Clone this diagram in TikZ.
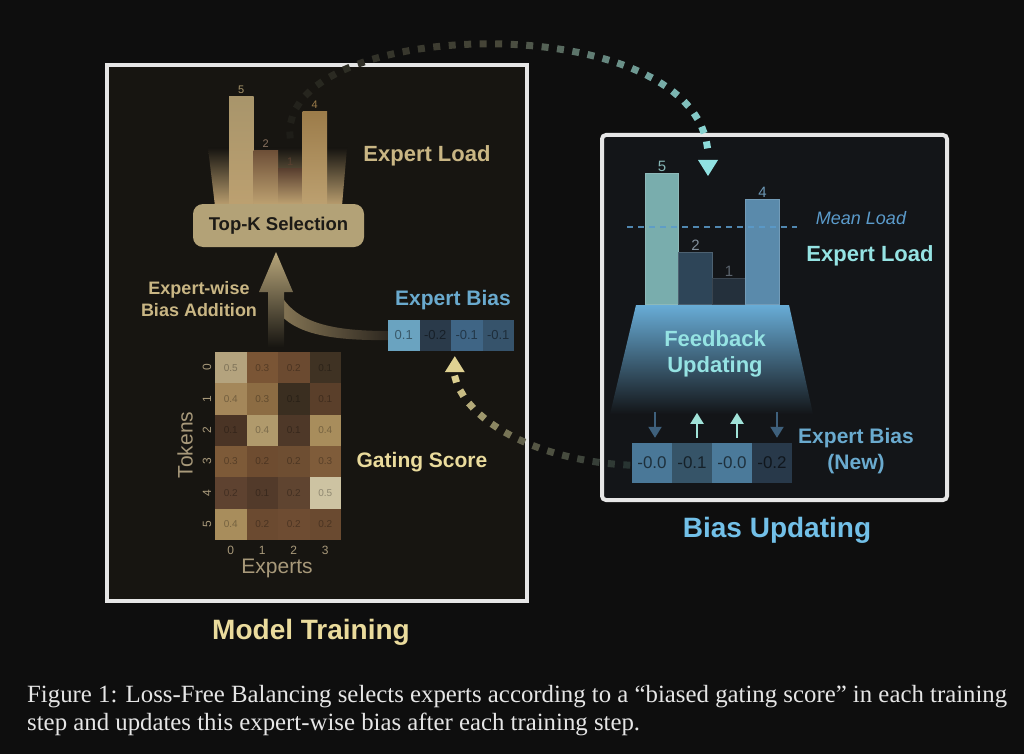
\documentclass[tikz,border=0pt]{standalone}
\usepackage{fontspec}
\setmainfont{Liberation Sans}
\newfontfamily\capfont{Liberation Serif}
\usetikzlibrary{positioning,calc}
\usetikzlibrary{arrows.meta,decorations.markings}
\definecolor{PageBg}{HTML}{0E0E0E}
\definecolor{TrainBg}{HTML}{171511}
\definecolor{UpdBg}{HTML}{131518}
\definecolor{FrameGray}{HTML}{E6E6E6}
\definecolor{LoadTan}{HTML}{C9B684}
\definecolor{GoldText}{HTML}{EADB9C}
\definecolor{TickTan}{HTML}{A8997A}
\definecolor{BiasBlue}{HTML}{6AAACE}
\definecolor{CyanText}{HTML}{95E3E3}
\definecolor{UpdBlue}{HTML}{72C0E8}
\definecolor{MeanBlue}{HTML}{5B9BCB}
\definecolor{BoxTan}{HTML}{B3A277}
\definecolor{BoxInk}{HTML}{1C1A16}
\definecolor{CapText}{HTML}{E6E6E6}
\definecolor{GlowTan}{HTML}{BCA070}
\definecolor{ArrowTan}{HTML}{B8A67A}
\definecolor{BandTan}{HTML}{8A7A58}
\definecolor{BandDark}{HTML}{2E2820}
\definecolor{FunnelBlue}{HTML}{68ACD6}
\definecolor{DownBlue}{HTML}{3E607C}
\definecolor{UpTeal}{HTML}{A0E2D8}
\definecolor{ArcDark}{HTML}{1E1D18}
\definecolor{ArcMid}{HTML}{48483A}
\definecolor{ArcTeal}{HTML}{90E2E2}
\definecolor{LowDark}{HTML}{283432}
\definecolor{LowMid}{HTML}{5A5A46}
\definecolor{LowGold}{HTML}{E0D292}
\newcommand\fsz[2]{\fontsize{#1}{#2}\selectfont}
\tikzset{
  panel/.style={draw=FrameGray,line width=4pt},
  lbar/.style={minimum width=24.5pt,inner sep=0pt,anchor=south,bottom color=GlowTan},
  rbar/.style={minimum width=33.5pt,inner sep=0pt,anchor=south,line width=0.6pt},
  hmcell/.style={minimum width=31.5pt,minimum height=31.3pt,inner sep=0pt,
    text=black,text opacity=0.3,font=\fsz{10}{12}},
  biascell/.style={minimum width=31.5pt,minimum height=31pt,inner sep=0pt,
    text=black,text opacity=0.45,font=\fsz{13}{15}},
  newcell/.style={minimum width=40pt,minimum height=40pt,inner sep=0pt,
    text=black,text opacity=0.6,font=\fsz{17}{20}},
  tick/.style={text=TickTan,font=\fsz{12}{14},inner sep=0pt},
  lab/.style={font=\bfseries\fsz{22}{26},inner sep=0pt,align=center},
  updown/.style={draw=#1,line width=2pt,-{Triangle[width=13pt,length=11pt]}},
  dotarc/.style n args={3}{postaction={decorate,decoration={markings,
    mark=between positions 0 and 1 step 15.5pt with {%
      \pgfmathsetmacro\dotpct{max(0,min(100,100*(\pgfkeysvalueof{/pgf/decoration/mark info/distance from start}/\pgfdecoratedpathlength)))}%
      \ifdim\dotpct pt<50pt
        \pgfmathsetmacro\dotmix{2*\dotpct}\colorlet{dotfill}{#2!\dotmix!#1}%
      \else
        \pgfmathsetmacro\dotmix{2*\dotpct-100}\colorlet{dotfill}{#3!\dotmix!#2}%
      \fi
      \fill[dotfill] (-3.5,-3.5) rectangle (3.5,3.5);}}}},
}

\begin{document}
\begin{tikzpicture}[x=1pt,y=-1pt]
\useasboundingbox (0,0) rectangle (1024,754);
\fill[PageBg] (0,0) rectangle (1024,754);

% panels
\draw[panel,fill=TrainBg] (107,65) rectangle (527,601);
\draw[panel,fill=UpdBg,rounded corners=4pt] (602,135) rectangle (947,500);

% left: expert load
\shade[top color=TrainBg,bottom color=GlowTan] (208,148) -- (347,148) -- (342,206) -- (215,206) -- cycle;
\definecolor{lbA}{HTML}{A8956B}\definecolor{lbB}{HTML}{6E5038}
\definecolor{lbC}{HTML}{5A4030}\definecolor{lbD}{HTML}{9C7C4A}
\node[lbar,minimum height=107pt,top color=lbA] (lb1) at (241.25,204) {};
\node[lbar,minimum height=53pt,top color=lbB] (lb2) at (265.75,204) {};
\node[lbar,minimum height=35pt,top color=lbC] (lb3) at (290.25,204) {};
\node[lbar,minimum height=92pt,top color=lbD] (lb4) at (314.75,204) {};
\node[tick,text=lbA,font=\fsz{11}{13},above=3pt of lb1] {5};
\node[tick,text=lbB!80!white,font=\fsz{11}{13},above=3pt of lb2] {2};
\node[tick,text=lbC,font=\fsz{11}{13},above=3pt of lb3] {1};
\node[tick,text=lbD,font=\fsz{11}{13},above=3pt of lb4] {4};
\node[lab,text=LoadTan] (loadL) at (427,156) {Expert Load};

\node[fill=BoxTan,rounded corners=10pt,minimum width=171pt,minimum height=43pt,
  font=\bfseries\fsz{18.5}{22},text=BoxInk] (topk) at (278.5,225.5) {Top-K Selection};

% bias addition
\shade[left color=BandTan,right color=BandDark]
  (282,297) .. controls (298,322) and (330,331) .. (388,331) -- (388,340) .. controls (322,341) and (288,331) .. (274,306) -- cycle;
\shade[top color=ArrowTan,bottom color=TrainBg]
  (268,347) -- (268,292) -- (259,292) -- (276,252) -- (293,292) -- (284,292) -- (284,347) -- cycle;
\node[lab,text=LoadTan,font=\bfseries\fsz{18}{22}] (wise) at (199,299) {Expert-wise\\Bias Addition};

\node[lab,text=BiasBlue,font=\bfseries\fsz{21}{25}] (biasL) at (453,300) {Expert Bias};
\foreach \i/\v/\bc in {1/0.1/6AA3C0,2/-0.2/2A3A4A,3/-0.1/3F6585,4/-0.1/36536B}{
  \definecolor{cellfill}{HTML}{\bc}
  \node[biascell,fill=cellfill] (ob\i) at (372.25+31.5*\i,335.5) {\v};
}

% gating score heatmap
\foreach \r/\c/\v/\hc in {0/0/0.5/B4A37E,0/1/0.3/7A5535,0/2/0.2/6B4A30,0/3/0.1/3F3223,
  1/0/0.4/A4875A,1/1/0.3/8C6C43,1/2/0.1/3A2E20,1/3/0.1/5A3F2A,
  2/0/0.1/4A3425,2/1/0.4/B09A6C,2/2/0.1/4E3828,2/3/0.4/A88D5C,
  3/0/0.3/7D5A38,3/1/0.2/6E4C30,3/2/0.2/6E4E32,3/3/0.3/7F5C3A,
  4/0/0.2/5E4230,4/1/0.1/523A2A,4/2/0.2/5F4430,4/3/0.5/CDC3A2,
  5/0/0.4/A88D5C,5/1/0.2/6B4A30,5/2/0.2/6E4C32,5/3/0.2/6A4A30}{
  \definecolor{cellfill}{HTML}{\hc}
  \node[hmcell,fill=cellfill] (hm\r\c) at (230.75+31.5*\c,367.65+31.3*\r) {\v};
}
\foreach \r in {0,...,5}
  \node[tick,rotate=90] at (207,367.65+31.3*\r) {\r};
\foreach \c in {0,...,3}
  \node[tick] at (230.75+31.5*\c,550) {\c};
\node[tick,font=\fsz{21}{25},rotate=90] (tokens) at (185,445) {Tokens};
\node[tick,font=\fsz{21}{25}] (experts) at (277,568) {Experts};
\node[lab,text=GoldText,font=\bfseries\fsz{21}{25}] (gate) at (422,462) {Gating Score};

\node[lab,text=GoldText,font=\bfseries\fsz{28}{32}] (train) at (311,632) {Model Training};

% right: bias updating
\definecolor{rbA}{HTML}{79ADAD}\definecolor{rbB}{HTML}{2E4558}
\definecolor{rbC}{HTML}{24303C}\definecolor{rbD}{HTML}{5A8AAB}
\node[rbar,minimum height=131pt,fill=rbA,draw=rbA!85!white] (rb1) at (662,305) {};
\node[rbar,minimum height=52pt,fill=rbB,draw=rbB!85!white] (rb2) at (695.5,305) {};
\node[rbar,minimum height=26pt,fill=rbC,draw=rbC!90!white] (rb3) at (729,305) {};
\node[rbar,minimum height=105pt,fill=rbD,draw=rbD!85!white] (rb4) at (762.5,305) {};
\node[tick,font=\fsz{15}{18},text=rbA!90!white,above=2pt of rb1] {5};
\node[tick,font=\fsz{15}{18},text=rbB!60!white,above=2pt of rb2] {2};
\node[tick,font=\fsz{15}{18},text=rbC!75!white,above=2pt of rb3] {1};
\node[tick,font=\fsz{15}{18},text=rbD!90!white,above=2pt of rb4] {4};
\coordinate (meanA) at (627,227);
\coordinate (meanB) at (797,227);
\draw[MeanBlue,line width=2pt,dash pattern=on 6pt off 5pt,opacity=0.85] (meanA) -- (meanB);
\node[text=MeanBlue,font=\itshape\fsz{18}{22},inner sep=0pt] (mean) at (861,218) {Mean Load};
\node[lab,text=CyanText] (loadR) at (870,256) {Expert Load};

\shade[top color=FunnelBlue,bottom color=UpdBg]
  (636,305) -- (789,305) -- (813,414) -- (610,414) -- cycle;
\node[lab,text=CyanText,font=\bfseries\fsz{22}{26}] (feed) at (715,354) {Feedback\\Updating};

\foreach \i/\v/\bc in {1/-0.0/4A7898,2/-0.1/365468,3/-0.0/4B7A9A,4/-0.2/28394A}{
  \definecolor{cellfill}{HTML}{\bc}
  \node[newcell,fill=cellfill] (nb\i) at (612+40*\i,463) {\v};
}
\draw[updown=DownBlue] ($(nb1.north)+(3,-31)$) -- ($(nb1.north)+(3,-5)$);
\draw[updown=UpTeal] ($(nb2.north)+(5,-5)$) -- ($(nb2.north)+(5,-30)$);
\draw[updown=UpTeal] ($(nb3.north)+(5,-5)$) -- ($(nb3.north)+(5,-30)$);
\draw[updown=DownBlue] ($(nb4.north)+(5,-31)$) -- ($(nb4.north)+(5,-5)$);
\node[lab,text=BiasBlue,font=\bfseries\fsz{21}{26}] (biasR) at (856,451) {Expert Bias\\(New)};

\node[lab,text=UpdBlue,font=\bfseries\fsz{28}{32}] (upd) at (777,530) {Bias Updating};

% dotted feedback arcs
\coordinate (arcS) at (290,135);
\coordinate (arcE) at (708,156);
\path[dotarc={ArcDark}{ArcMid}{ArcTeal}] (arcS) .. controls (283,15) and (705,5) .. (arcE);
\fill[ArcTeal] ($(arcE)+(-10,4)$) -- ($(arcE)+(10,4)$) -- ($(arcE)+(0,20)$) -- cycle;

\coordinate (lowS) at ($(nb1.west)+(-5,2)$);
\coordinate (lowE) at ($(ob3.south west)+(4,25)$);
\path[dotarc={LowDark}{LowMid}{LowGold}] (lowS) .. controls (535,460) and (465,420) .. (lowE);
\fill[LowGold] ($(lowE)+(-10,-4)$) -- ($(lowE)+(10,-4)$) -- ($(lowE)+(0,-20)$) -- cycle;

% caption
\node[anchor=west,align=left,text=CapText,font=\capfont\fsz{24.8}{28},inner sep=0pt] (cap) at (27,711)
  {Figure 1: Loss-Free Balancing selects experts according to a “biased gating score” in each training\\
   step and updates this expert-wise bias after each training step.};
\end{tikzpicture}
\end{document}
